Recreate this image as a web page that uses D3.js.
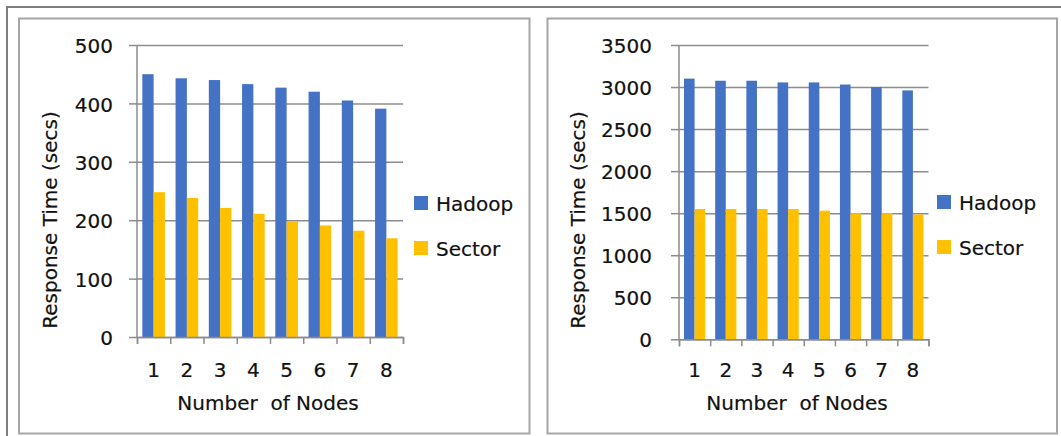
<!DOCTYPE html>
<html>
<head>
<meta charset="utf-8">
<script src="https://cdn.jsdelivr.net/npm/d3@7"></script>
<style>
  html, body { margin: 0; padding: 0; background: #fff; }
  svg { display: block; }
  text { font-family: "DejaVu Sans", Verdana, sans-serif; fill: #111; stroke: #111; stroke-width: 0.2px; }
</style>
</head>
<body>
<svg id="chart" width="1061" height="436"></svg>
<script>
// ---- data ----
const nodes = ["1", "2", "3", "4", "5", "6", "7", "8"];
const seriesNames = ["Hadoop", "Sector"];
const seriesColors = ["#4472C4", "#FFC000"];
const leftHadoop = [450, 443, 440, 433, 427, 420, 405, 391];
const leftSector = [248, 238, 221, 211, 198, 191, 182, 169];
const rightHadoop = [3100, 3075, 3075, 3055, 3055, 3030, 3000, 2960];
const rightSector = [1550, 1550, 1550, 1550, 1530, 1500, 1500, 1485];
const leftTicks = [0, 100, 200, 300, 400, 500];
const rightTicks = [0, 500, 1000, 1500, 2000, 2500, 3000, 3500];
const yTitle = "Response Time (secs)";
const xTitle = "Number  of Nodes";

const svg = d3.select("#chart");

// outer frame
svg.append("path")
  .attr("d", "M7,436 V7 H1061")
  .attr("fill", "none").attr("stroke", "#7f7f7f").attr("stroke-width", 2);

function panel(cfg) {
  const g = svg.append("g");
  // panel border
  g.append("rect")
    .attr("x", cfg.box[0]).attr("y", cfg.box[1])
    .attr("width", cfg.box[2]).attr("height", cfg.box[3])
    .attr("fill", "none").attr("stroke", "#a6a6a6").attr("stroke-width", 2);

  const x = d3.scaleBand().domain(nodes).range([cfg.x0, cfg.x1]).padding(0);
  const xb = d3.scaleLinear().domain([0, nodes.length]).range([cfg.x0, cfg.x1]);
  const xs = d3.scaleBand().domain(seriesNames)
    .range([x.bandwidth() * 0.16, x.bandwidth() * 0.84]).padding(0);
  const y = d3.scaleLinear().domain([0, cfg.ticks[cfg.ticks.length - 1]])
    .range([cfg.y0, cfg.yTop]);
  const w = cfg.x1 - cfg.x0;

  // gridlines
  g.append("g").attr("transform", `translate(${cfg.x0},0)`)
    .call(d3.axisLeft(y).tickValues(cfg.ticks).tickSize(-w).tickFormat(""))
    .call(a => a.select(".domain").remove())
    .call(a => a.selectAll("line").attr("stroke", "#8c8c8c").attr("stroke-width", 1.5));
  // outer y ticks + labels
  g.append("g").attr("transform", `translate(${cfg.x0},0)`)
    .call(d3.axisLeft(y).tickValues(cfg.ticks).tickSize(8).tickPadding(cfg.ypad)
      .tickFormat(d3.format("d")))
    .call(a => a.select(".domain").remove())
    .call(a => a.selectAll("line").attr("stroke", "#8c8c8c").attr("stroke-width", 1.5))
    .call(a => a.selectAll("text").attr("font-size", 20).attr("fill", "#111")
      .attr("font-family", "DejaVu Sans").attr("dy", "0.38em"));

  // bars
  const data = nodes.map((n, i) => ({ n, vals: [cfg.h[i], cfg.s[i]] }));
  const grp = g.selectAll(".grp").data(data).join("g")
    .attr("transform", d => `translate(${x(d.n)},0)`);
  grp.selectAll("rect").data(d => d.vals.map((v, k) => ({ v, k })))
    .join("rect")
    .attr("x", d => xs(seriesNames[d.k]))
    .attr("width", xs.bandwidth())
    .attr("y", d => y(d.v))
    .attr("height", d => y(0) - y(d.v))
    .attr("fill", d => seriesColors[d.k]);

  // y axis line
  g.append("line").attr("x1", cfg.x0).attr("x2", cfg.x0)
    .attr("y1", y(cfg.ticks[cfg.ticks.length - 1])).attr("y2", cfg.y0)
    .attr("stroke", "#8c8c8c").attr("stroke-width", 1.5);

  // x axis: boundary ticks
  g.append("g").attr("transform", `translate(0,${cfg.y0})`)
    .call(d3.axisBottom(xb).ticks(nodes.length).tickSize(7).tickFormat(""))
    .call(a => a.selectAll("line,path").attr("stroke", "#8c8c8c").attr("stroke-width", 1.5));
  // x labels
  g.append("g").attr("transform", `translate(0,${cfg.y0})`)
    .call(d3.axisBottom(x).tickSize(0).tickPadding(cfg.xpad))
    .call(a => a.select(".domain").remove())
    .call(a => a.selectAll("text").attr("font-size", 20).attr("fill", "#111")
      .attr("font-family", "DejaVu Sans"));

  // titles
  g.append("text").attr("x", cfg.xtx).attr("y", cfg.xty)
    .attr("text-anchor", "middle").attr("font-size", 20).text(xTitle)
    .style("white-space", "pre");
  g.append("text")
    .attr("transform", `translate(${cfg.ytx},${cfg.yty}) rotate(-90)`)
    .attr("text-anchor", "middle").attr("dy", "0.35em").attr("font-size", 20).text(yTitle);

  // legend
  const lg = g.append("g").attr("transform", `translate(${cfg.lx},${cfg.ly})`);
  seriesNames.forEach((s, i) => {
    lg.append("rect").attr("x", 0).attr("y", i * 45).attr("width", 14).attr("height", 14)
      .attr("fill", seriesColors[i]);
    lg.append("text").attr("x", 22).attr("y", i * 45 + 7).attr("dy", "0.38em")
      .attr("font-size", 20).text(s);
  });
}

panel({
  box: [19, 18.5, 510.5, 415],
  x0: 137, x1: 403, y0: 337, yTop: 45,
  ticks: leftTicks, h: leftHadoop, s: leftSector,
  ypad: 16, xpad: 26,
  xtx: 268, xty: 410, ytx: 50, yty: 220,
  lx: 414, ly: 196
});
panel({
  box: [547.5, 18.5, 509.5, 415],
  x0: 679, x1: 928.5, y0: 339.3, yTop: 45,
  ticks: rightTicks, h: rightHadoop, s: rightSector,
  ypad: 19, xpad: 24,
  xtx: 797, xty: 410, ytx: 578, yty: 220,
  lx: 937, ly: 195
});
</script>
</body>
</html>
